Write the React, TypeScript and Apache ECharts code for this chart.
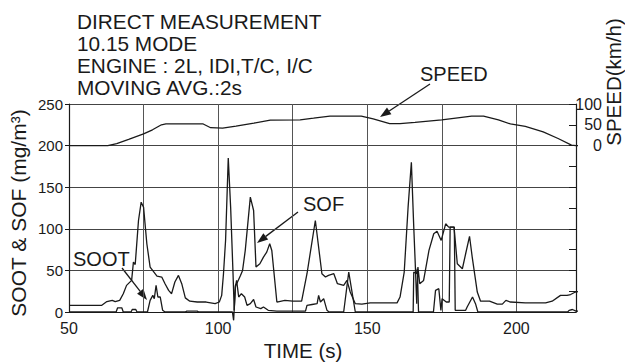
import React, { useEffect, useRef } from "react";
import * as echarts from "echarts";

const TITLE_LINES = ["DIRECT MEASUREMENT", "10.15 MODE", "ENGINE : 2L, IDI,T/C, I/C", "MOVING AVG.:2s"];
const X_TICKS_LABELLED = [50, 100, 150, 200];

const SOF: [number, number][] = [
  [50, 8], [61, 8], [62.7, 12.5], [64.5, 14], [65.5, 12.5], [67, 14], [68.2, 22], [69.3, 32], [71, 38],
  [71.6, 60], [72.2, 57], [73.3, 110], [74.2, 132], [75, 126], [76.1, 82], [77.2, 54], [79.5, 43],
  [81.1, 42], [82.2, 34], [83.4, 26], [84.4, 22], [85.5, 36], [86.7, 44], [87.8, 34], [89, 17],
  [90.5, 13], [93, 12], [96, 12], [99, 10], [100.4, 12], [101.2, 20], [101.8, 46], [102.5, 86],
  [103.4, 185], [104.2, 126], [105, 46], [105.4, 2], [105.8, 32], [106.5, 36], [107.5, 44], [108.2, 50],
  [109.1, 74], [110.8, 138], [111.9, 122], [112.7, 54], [114, 58], [115.2, 66], [116.3, 72], [117.3, 82],
  [118, 74], [119.7, 12], [122.4, 14], [125, 13], [128, 13], [129.8, 46], [132.6, 110], [134.8, 46],
  [136, 42], [137, 44], [138.8, 46], [140, 34], [142.1, 32], [143.2, 38], [144.3, 24], [146, 10],
  [148.2, 9.5], [151, 11], [155.5, 11], [160, 11], [161, 18], [162.4, 48], [163.7, 126], [164.8, 180],
  [165.6, 102], [166.1, 58], [166.6, 10], [167, 54], [167.6, 34], [168.9, 38], [170.7, 74], [172.3, 94],
  [173.4, 97], [174.8, 86], [176.3, 106], [177.3, 102], [179.1, 102], [180.2, 58], [181.9, 52], [183, 70],
  [184.3, 91], [185.2, 66], [186.9, 24], [188, 13], [191, 13], [193.6, 9.5], [195.3, 9.5], [196.5, 14],
  [198, 12], [203, 11], [209.8, 11], [212, 13], [214.8, 20], [217, 20], [218.2, 21], [219.8, 24],
  [221.5, 25], [223.8, 24],
];

const SOOT: [number, number][] = [
  [50, 0], [65.8, 0], [66.3, 5], [67.7, 5], [68.2, 0], [70.8, 0], [71.2, 3], [72.4, 3], [72.8, 0],
  [76.3, 0], [77.2, 14], [78.1, 20], [78.6, 16], [79.2, 32], [79.8, 18], [80.6, 18], [81.4, 2], [82.2, 0],
  [89, 0], [89.5, 1], [93, 1], [93.5, 0], [104.8, 0], [105.2, -10], [105.8, 30], [106.2, 38], [106.9, 18],
  [107.8, 22], [108.9, 18], [109.7, 8], [110.8, 10], [111.9, 15], [112.7, 6], [114.3, 4], [115.2, 6],
  [116.8, 2], [119.7, 1], [129.3, 1], [129.8, 8], [131.5, 9], [133.2, 10], [133.7, 20], [134.3, 12],
  [135.4, 16], [136.5, 2], [137.2, 0], [142.1, 0], [143.8, 48], [146, 0], [165.4, 0], [165.6, 48],
  [166.5, 46], [166.8, 52], [167.2, 0], [172.2, 0], [172.9, 26], [174, 28], [174.7, 2], [175.1, 16],
  [176.5, 12], [177.5, 12], [177.8, 102], [179.2, 102], [179.5, 2], [183, 2], [183.5, 6], [185.3, 18],
  [186.3, 10], [187.1, 0], [217.2, 0], [217.7, 2], [218.8, 3], [220, 1], [223.8, 1],
];

const SPEED: [number, number][] = [
  [50, 0], [63, 0], [66, 5], [70, 15], [75, 28], [78, 38], [81, 50], [82.5, 52], [95, 52], [97.5, 43],
  [101.5, 42], [106, 47], [112, 54], [117.5, 61], [127.5, 62], [132, 66], [137.5, 71], [148, 71],
  [152, 64], [157.5, 53], [161, 53], [166, 56], [175, 62], [185, 71], [189, 71], [194, 62], [198, 52],
  [203, 46], [209, 33], [214, 17], [218.5, 1], [220, 0], [223.8, 0],
];

const FONT = "'Liberation Sans', Arial, sans-serif";
const INK = "#1a1a1a";

function arrow(x1: number, y1: number, x2: number, y2: number) {
  const a = Math.atan2(y2 - y1, x2 - x1);
  const L = 11, W = 4;
  const c = Math.cos(a), s = Math.sin(a);
  const bx = x2 - L * c, by = y2 - L * s;
  return [
    { type: "line", shape: { x1, y1, x2: bx, y2: by }, style: { stroke: INK, lineWidth: 1.3 } },
    {
      type: "polygon",
      shape: { points: [[x2, y2], [bx + W * s, by - W * c], [bx - W * s, by + W * c]] },
      style: { fill: INK },
    },
  ];
}

function label(text: string, x: number, y: number, size = 20) {
  return {
    type: "text",
    x,
    y,
    style: { text, fill: INK, font: `${size}px ${FONT}`, textVerticalAlign: "middle" },
  };
}

export default function App() {
  const ref = useRef<HTMLDivElement>(null);
  useEffect(() => {
    if (!ref.current) return;
    const chart = echarts.init(ref.current, undefined, { renderer: "svg" });
    const lineSeries = (data: [number, number][], yAxisIndex: number) => ({
      type: "line",
      data,
      yAxisIndex,
      symbol: "none",
      clip: false,
      lineStyle: { color: INK, width: 1.3 },
      silent: true,
    });
    const graphics: any[] = [];
    TITLE_LINES.forEach((t, i) => graphics.push(label(t, 77, 21 + i * 22, 20.8)));
    graphics.push(label("SPEED", 420, 74));
    graphics.push(...arrow(430, 84, 380, 117));
    graphics.push(label("SOF", 303, 204));
    graphics.push(...arrow(298, 212, 257, 243));
    graphics.push(label("SOOT", 73, 259));
    graphics.push(...arrow(122, 268, 147, 300));
    graphics.push({
      type: "text", x: 303, y: 350,
      style: { text: "TIME (s)", fill: INK, font: `20.5px ${FONT}`, textAlign: "center", textVerticalAlign: "middle" },
    });
    graphics.push({
      type: "text", x: 18, y: 213, rotation: Math.PI / 2,
      style: { text: "SOOT & SOF (mg/m³)", fill: INK, font: `21px ${FONT}`, textAlign: "center", textVerticalAlign: "middle" },
    });
    graphics.push({
      type: "text", x: 613, y: 82, rotation: Math.PI / 2,
      style: { text: "SPEED(km/h)", fill: INK, font: `20.5px ${FONT}`, textAlign: "center", textVerticalAlign: "middle" },
    });

    chart.setOption({
      animation: false,
      textStyle: { fontFamily: FONT },
      grid: { left: 69, right: 49, top: 104, bottom: 51 },
      xAxis: {
        type: "value",
        min: 50,
        max: 220,
        interval: 25,
        axisLine: { show: true, lineStyle: { color: INK, width: 1.2 } },
        axisTick: { show: false },
        splitLine: { show: true, lineStyle: { color: "#555", width: 1 } },
        axisLabel: {
          color: INK,
          fontSize: 16,
          margin: 8,
          formatter: (v: number) => (X_TICKS_LABELLED.includes(v) ? String(v) : ""),
        },
      },
      yAxis: [
        {
          type: "value",
          min: 0,
          max: 250,
          interval: 50,
          axisLine: { show: true, lineStyle: { color: INK, width: 1.2 } },
          axisTick: { show: true, length: 4, lineStyle: { color: INK } },
          splitLine: { show: true, lineStyle: { color: "#444", width: 1 } },
          axisLabel: { color: INK, fontSize: 15, margin: 6 },
        },
        {
          type: "value",
          position: "right",
          min: -400,
          max: 100,
          interval: 50,
          axisLine: { show: true, lineStyle: { color: INK, width: 1.2 } },
          axisTick: { show: true, inside: true, length: 7, lineStyle: { color: INK } },
          splitLine: { show: false },
          axisLabel: {
            color: INK,
            fontSize: 16,
            margin: 26,
            align: "right",
            formatter: (v: number) => (v >= 0 ? String(v) : ""),
          },
        },
      ],
      series: [lineSeries(SPEED, 1), lineSeries(SOF, 0), lineSeries(SOOT, 0)],
      graphic: graphics,
    });
    return () => chart.dispose();
  }, []);
  return <div ref={ref} style={{ position: "absolute", left: 0, top: 0, width: 625, height: 363 }} />;
}
